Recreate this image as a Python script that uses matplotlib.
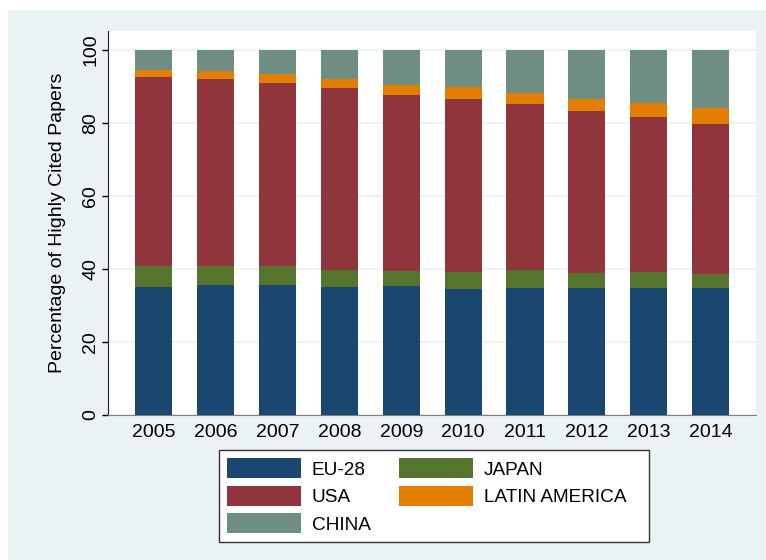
import numpy as np
import matplotlib
matplotlib.use("Agg")
import matplotlib.pyplot as plt
from matplotlib.patches import Rectangle

years = [2005, 2006, 2007, 2008, 2009, 2010, 2011, 2012, 2013, 2014]
eu28 = [35.0, 35.5, 35.5, 35.0, 35.3, 34.4, 34.7, 34.7, 34.7, 34.7]
japan = [5.7, 5.2, 5.2, 4.7, 4.1, 4.8, 4.8, 4.1, 4.5, 3.9]
usa = [51.9, 51.2, 50.2, 49.7, 48.3, 47.2, 45.7, 44.5, 42.3, 41.1]
latin_america = [1.8, 2.2, 2.5, 2.5, 2.6, 3.3, 2.9, 3.1, 3.9, 4.3]
china = [5.6, 5.9, 6.6, 8.1, 9.7, 10.3, 11.9, 13.6, 14.6, 16.0]

series = [
    ("EU-28", eu28, "#1a476f"),
    ("JAPAN", japan, "#55752f"),
    ("USA", usa, "#90353b"),
    ("LATIN AMERICA", latin_america, "#e37e00"),
    ("CHINA", china, "#6e8e84"),
]

plt.rcParams['font.family'] = ['Liberation Sans', 'DejaVu Sans']
bg = "#eaf2f3"

fig = plt.figure(figsize=(7.66, 5.6), dpi=100)
fig.patch.set_facecolor("white")
# outer light panel, Stata style (kept behind the axes)
fig.patches.append(Rectangle((8 / 766, 0), 1, 1 - 10 / 560, transform=fig.transFigure,
                             facecolor=bg, edgecolor="none", zorder=-10))

ax = fig.add_axes([108.3 / 766, 1 - 414.7 / 560, (756 - 108.3) / 766, (414.7 - 31) / 560])
ax.set_zorder(1)
ax.set_facecolor("white")

x = np.arange(len(years))
bottom = np.zeros(len(years))
bars = {}
for name, vals, color in series:
    bars[name] = ax.bar(x, vals, width=0.6, bottom=bottom, color=color, zorder=3)
    bottom += np.array(vals)

ax.set_xlim(-0.735, len(years) - 1 + 0.735)
ax.set_ylim(0, 105.1)
ax.set_yticks([0, 20, 40, 60, 80, 100])
ax.set_xticks(x)
ax.set_xticklabels([str(y) for y in years])
ax.tick_params(axis='x', length=0, pad=7, labelsize=14)
ax.tick_params(axis='y', length=4.5, width=1, pad=2, labelsize=14, colors="black")
for lab in ax.get_yticklabels():
    lab.set_rotation(90)
    lab.set_va("center")

ax.grid(axis='y', color=bg, linewidth=1.2, zorder=1)
ax.spines['top'].set_visible(False)
ax.spines['right'].set_visible(False)
ax.spines['left'].set_color("#222222")
ax.spines['bottom'].set_color("#808080")
ax.set_ylabel("Percentage of Highly Cited Papers", fontsize=14, labelpad=12)

order = ["EU-28", "USA", "CHINA", "JAPAN", "LATIN AMERICA"]
labels = ["EU-28", "USA", "CHINA", "JAPAN", "LATIN AMERICA   "]  # trailing spaces pad the box on the right
leg = fig.legend([bars[n] for n in order], labels, ncol=2, loc='lower left',
                 bbox_to_anchor=(219.3 / 766, 1 - 541.7 / 560), bbox_transform=fig.transFigure,
                 fontsize=13.7, handlelength=3.85, handleheight=1.25, labelspacing=0.37,
                 handletextpad=0.6, columnspacing=1.5, borderpad=0.42, borderaxespad=0,
                 fancybox=False, framealpha=1, edgecolor="#333333", facecolor="white")
leg.get_frame().set_linewidth(1)

fig.savefig("out.png", dpi=100, facecolor=fig.get_facecolor())
